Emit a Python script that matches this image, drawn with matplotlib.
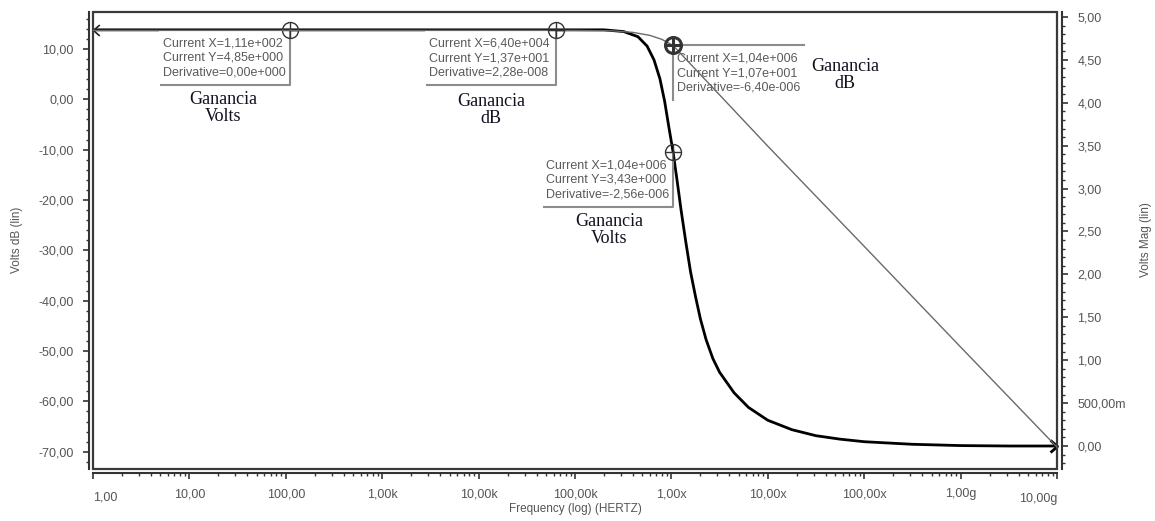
import numpy as np
import matplotlib
matplotlib.use('Agg')
import matplotlib.pyplot as plt
import matplotlib.transforms as mtransforms
from matplotlib.path import Path
from matplotlib.patches import Rectangle
from matplotlib.ticker import FixedLocator, MultipleLocator, LogLocator, NullFormatter

W, H = 1155, 521

# gain in dB (left axis)
freq_db = [1, 1.0e5, 2.5e5, 4.0e5, 6.0e5, 8.0e5, 1.04e6, 1.0e7, 1.0e8, 1.0e9, 1.0e10]
gain_db = [13.7, 13.7, 13.6, 13.3, 12.7, 11.9, 10.7, -9.3, -29.2, -49.2, -69.1]

# gain in volts (right axis)
freq_v = [1, 2.0e5, 3.2e5, 4.5e5, 5.6e5, 6.6e5, 7.6e5, 8.5e5, 9.4e5, 1.04e6,
          1.15e6, 1.26e6, 1.41e6, 1.58e6, 1.78e6, 2.0e6, 2.29e6, 2.69e6, 3.16e6,
          3.98e6, 4.47e6, 6.3e6, 1.0e7, 1.78e7, 3.16e7, 5.6e7, 1.0e8, 3.16e8,
          1.0e9, 3.16e9, 1.0e10]
gain_v = [4.85, 4.85, 4.83, 4.77, 4.66, 4.50, 4.28, 4.02, 3.72, 3.43,
          3.08, 2.75, 2.38, 2.03, 1.74, 1.48, 1.24, 1.02, 0.86,
          0.70, 0.62, 0.45, 0.30, 0.19, 0.12, 0.08, 0.05, 0.02,
          0.005, 0.0, 0.0]

# cursors
cursor_f = [1.11e2, 6.40e4, 1.04e6, 1.04e6]
cursor_val = [4.85, 13.7, 10.7, 3.43]
cursor_deriv = [0.0, 2.28e-8, -6.40e-6, -2.56e-6]
cursor_trace = ['V', 'dB', 'dB', 'V']
cursor_side = ['left', 'left', 'right', 'left']

freq_ticks = [1, 1e1, 1e2, 1e3, 1e4, 1e5, 1e6, 1e7, 1e8, 1e9, 1e10]
freq_labels = ['1,00', '10,00', '100,00', '1,00k', '10,00k', '100,00k',
               '1,00x', '10,00x', '100,00x', '1,00g', '10,00g']
db_ticks = [10, 0, -10, -20, -30, -40, -50, -60, -70]
db_labels = ['10,00', '0,00', '-10,00', '-20,00', '-30,00', '-40,00',
             '-50,00', '-60,00', '-70,00']
v_ticks = [0, 0.5, 1.0, 1.5, 2.0, 2.5, 3.0, 3.5, 4.0, 4.5, 5.0]
v_labels = ['0,00', '500,00m', '1,00', '1,50', '2,00', '2,50', '3,00',
            '3,50', '4,00', '4,50', '5,00']

plt.rcParams['font.family'] = ['Liberation Sans', 'DejaVu Sans']
TICKC = '#555555'
AXC = '#333333'


def sci(v):
    if v == 0:
        return '0,00e+000'
    e = int(np.floor(np.log10(abs(v))))
    m = v / 10.0**e
    if round(abs(m), 2) >= 10:
        e += 1
        m = v / 10.0**e
    s = ('%.2f' % m).replace('.', ',')
    return s + 'e' + ('+' if e >= 0 else '-') + '%03d' % abs(e)


fig = plt.figure(figsize=(W / 100, H / 100), dpi=100)
L, R, T, B = 93, 1057, 12, 469
ax = fig.add_axes([L / W, 1 - B / H, (R - L) / W, (B - T) / H])
ax2 = ax.twinx()
ax.set_zorder(ax2.get_zorder() + 1)
ax.patch.set_visible(False)

ax.set_xscale('log')
ax.set_xlim(1, 1e10)
ax.set_ylim(-73.43, 17.35)
ax2.set_ylim(-0.268, 5.058)

# frame around the plot area
ax.add_patch(Rectangle((0, 0), 1, 1, transform=ax.transAxes, fill=False,
                       edgecolor='#3a3a3a', lw=1.6, clip_on=False, zorder=1))

for sp in ['top', 'right']:
    ax.spines[sp].set_visible(False)
for sp in ['top', 'left', 'bottom']:
    ax2.spines[sp].set_visible(False)
ax.spines['left'].set_position(('outward', 3))
ax.spines['bottom'].set_position(('outward', 3))
ax2.spines['right'].set_position(('outward', 3.6))
for s in [ax.spines['left'], ax.spines['bottom'], ax2.spines['right']]:
    s.set_color(AXC)
    s.set_linewidth(1.5)

ax.xaxis.set_major_locator(FixedLocator(freq_ticks))
ax.set_xticklabels([''] + freq_labels[1:-1] + [''])
ax.xaxis.set_minor_locator(LogLocator(base=10, subs=np.arange(2, 10), numticks=20))
ax.xaxis.set_minor_formatter(NullFormatter())
ax.yaxis.set_major_locator(FixedLocator(db_ticks))
ax.set_yticklabels(db_labels)
ax.yaxis.set_minor_locator(MultipleLocator(2))
ax2.yaxis.set_major_locator(FixedLocator(v_ticks))
ax2.set_yticklabels(v_labels)
ax2.yaxis.set_minor_locator(MultipleLocator(0.1))

for a in [ax, ax2]:
    a.tick_params(which='major', direction='out', length=4.5, width=1.2,
                  color=AXC, labelcolor=TICKC, labelsize=9, pad=6.5)
    a.tick_params(which='minor', direction='out', length=2.5, width=1.0, color=AXC)

# end labels of the frequency axis sit lower and inside
end_trans = ax.get_xaxis_transform()
ax.annotate(freq_labels[0], xy=(freq_ticks[0], 0), xycoords=end_trans,
            xytext=(0, -28), textcoords='offset pixels', ha='left', va='center',
            fontsize=9, color=TICKC, annotation_clip=False)
ax.annotate(freq_labels[-1], xy=(freq_ticks[-1], 0), xycoords=end_trans,
            xytext=(0, -30), textcoords='offset pixels', ha='right', va='center',
            fontsize=9, color=TICKC, annotation_clip=False)

fig.text(575 / W, 1 - 509 / H, 'Frequency (log) (HERTZ)', ha='center', va='center',
         fontsize=8.5, color=TICKC)
fig.text(17 / W, 1 - 240 / H, 'Volts dB (lin)', ha='center', va='center',
         rotation=90, fontsize=8.5, color=TICKC)
fig.text(1146 / W, 1 - 240 / H, 'Volts Mag (lin)', ha='center', va='center',
         rotation=90, fontsize=8.5, color=TICKC)

# traces
ax2.plot(freq_v, gain_v, color='black', lw=2.0, zorder=2, solid_joinstyle='round')
ax.plot(freq_db, gain_db, color='#6a6a6a', lw=1.0, zorder=4)

left_tip = Path([(4, 3.5), (0, 0), (4, -3.5)], [Path.MOVETO, Path.LINETO, Path.LINETO])
right_tip = Path([(-4, 3.5), (0, 0), (-4, -3.5)], [Path.MOVETO, Path.LINETO, Path.LINETO])
ax2.plot(freq_v[:1], gain_v[:1], marker=left_tip, ms=9, mfc='none', mec='#222222',
         mew=1.2, ls='none', clip_on=False, zorder=5)
ax2.plot(freq_v[-1:], gain_v[-1:], marker=right_tip, ms=10, mfc='none', mec='black',
         mew=2.0, ls='none', clip_on=False, zorder=5)

# cursor readouts
bw, bh = 131, 55
ident = mtransforms.IdentityTransform()
for i, (f, v, d, tr, side) in enumerate(zip(cursor_f, cursor_val, cursor_deriv,
                                            cursor_trace, cursor_side)):
    axis = ax if tr == 'dB' else ax2
    px, py = axis.transData.transform((f, v))
    x0 = px - bw if side == 'left' else px
    ax2.add_patch(Rectangle((x0, py - bh), bw, bh, transform=ident, facecolor='white',
                            edgecolor='none', zorder=3, clip_on=False))
    if side == 'left':
        ax2.plot([x0 + 2, x0 + bw, x0 + bw], [py - bh, py - bh, py - 2],
                 transform=ident, color='#8c8c8c', lw=1.5, zorder=3.5, clip_on=False)
    else:
        ax2.plot([x0, x0, x0 + bw], [py - bh, py, py],
                 transform=ident, color='#8c8c8c', lw=1.5, zorder=3.5, clip_on=False)
    lines = ['Current X=' + sci(f), 'Current Y=' + sci(v), 'Derivative=' + sci(d)]
    for k, s in enumerate(lines):
        ax2.text(x0 + 4, py - 13.5 - 14.5 * k, s, transform=ident, ha='left', va='center',
                 fontsize=9, color='#5a5a5a', zorder=3.6, clip_on=False)
    bold = (i == 2)
    axis.plot([f], [v], marker='o', ms=11.5, mfc='none', mec='#333333',
              mew=2.2 if bold else 1.0, ls='none', zorder=6, clip_on=False)
    axis.plot([f], [v], marker='+', ms=11.5, mec='#333333',
              mew=2.2 if bold else 1.0, ls='none', zorder=6, clip_on=False)

# trace names
for x, y, s in [(223, 108, 'Ganancia\nVolts'), (491, 110, 'Ganancia\ndB'),
                (845, 75, 'Ganancia\ndB'), (609, 230, 'Ganancia\nVolts')]:
    fig.text(x / W, 1 - y / H, s, ha='center', va='center', family='Liberation Serif',
             fontsize=13, color='#101020', linespacing=1.05)

fig.savefig('out.png', dpi=100)
